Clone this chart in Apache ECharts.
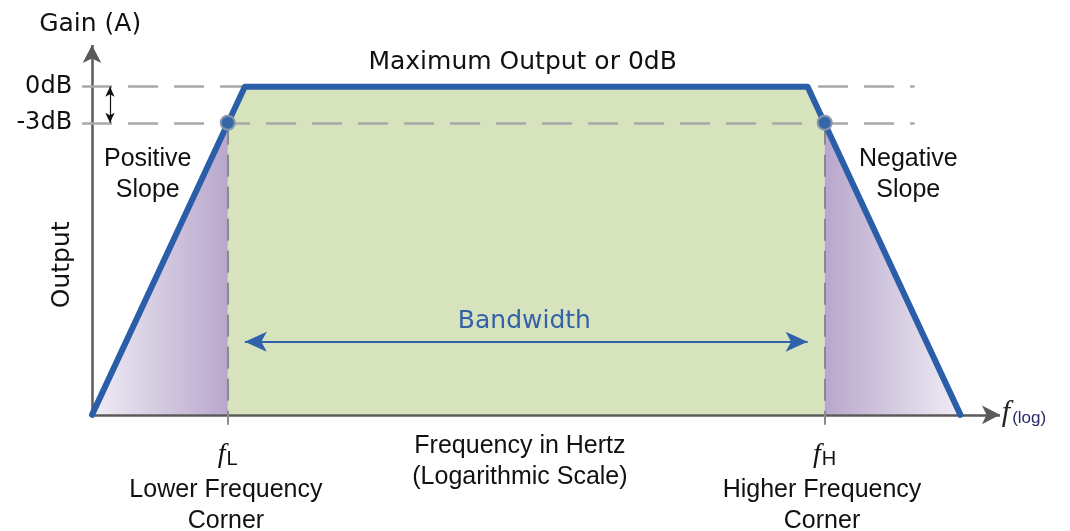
<!DOCTYPE html>
<html>
<head>
<meta charset="utf-8">
<title>Bandwidth</title>
<script src="https://cdn.jsdelivr.net/npm/echarts@6/dist/echarts.min.js"></script>
<style>
  html, body { margin: 0; padding: 0; background: #fff; }
  #chart { width: 1070px; height: 531px; }
</style>
</head>
<body>
<div id="chart"></div>
<script>
// response shape, x = log frequency (0..100), y = gain (0dB = 100, -3dB = 89)
const responseX = [0, 17, 79.6, 96.6];
const responseY = [0, 100, 100, 0];
const gain0dB = 100;
const gain3dB = 89;
const fLow = 15.1;
const fHigh = 81.5;
const guideStart = -1.1;
const guideEnd = 91.5;
const cornerDrop = -3;
const bandwidthY = 22.3;
const stepArrowX = 2;
const xAxisEnd = 101;
const yAxisEnd = 112.7;

// annotations, in data units
const noteText = ['Gain (A)', 'Positive\nSlope', 'Negative\nSlope', 'Maximum Output or 0dB',
  'Bandwidth', 'Frequency in Hertz\n(Logarithmic Scale)', 'Lower Frequency\nCorner', 'Higher Frequency\nCorner'];
const noteX = [-0.2, 6.2, 90.8, 47.9, 48.1, 47.6, 14.9, 81.2];
const noteY = [118.8, 73.1, 73.1, 107.3, 28.6, -14.2, -27.6, -27.6];

const chart = echarts.init(document.getElementById('chart'));

const darkText = '#111';
const verdana = '"DejaVu Sans", sans-serif';
const arial = '"Liberation Sans", Arial, sans-serif';

function pts(xs, ys) {
    return xs.map(function (x, i) { return [x, ys[i]]; });
}

const passband = [[fLow, gain3dB], [responseX[1], responseY[1]], [responseX[2], responseY[2]], [fHigh, gain3dB]];
const lowSlope = [[responseX[0], responseY[0]], [fLow, gain3dB]];
const highSlope = [[fHigh, gain3dB], [responseX[3], responseY[3]]];

const noteFonts = [verdana, arial, arial, verdana, verdana, arial, arial, arial];
const notes = noteText.map(function (t, i) {
    return {
        value: [noteX[i], noteY[i]],
        label: {
            formatter: t,
            fontFamily: noteFonts[i],
            color: i === 4 ? '#3461a8' : darkText
        }
    };
});
// rotated axis name
notes.push({ value: [-3.3, 45.7], label: { formatter: 'Output', rotate: 90, fontFamily: verdana, color: darkText } });
// corner symbols
const fRich = {
    f: { fontFamily: '"Liberation Serif", serif', fontStyle: 'italic', fontSize: 28, color: darkText },
    s: { fontFamily: arial, fontSize: 20, color: darkText, padding: [10, 0, 0, 1] }
};
notes.push({ value: [fLow, -12], label: { formatter: '{f|f}{s|L}', rich: fRich } });
notes.push({ value: [fHigh, -12], label: { formatter: '{f|f}{s|H}', rich: fRich } });
notes.push({ value: [101.2, 0.5], label: {
    formatter: '{f|f}{s|(log)}', align: 'left',
    rich: {
        f: { fontFamily: '"Liberation Serif", serif', fontStyle: 'italic', fontSize: 30, color: '#222' },
        s: { fontFamily: arial, fontSize: 17, color: '#2a2a6a', padding: [10, 0, 0, 2] }
    }
} });

const hDash = { color: '#a8a8a8', width: 2.5, type: [30, 16] };
const vDash = { color: '#8a8a8a', width: 2, type: [22, 10] };
const dbLabel = function (txt) {
    return { show: true, position: 'start', distance: 10, formatter: txt, fontFamily: verdana, fontSize: 24, color: darkText };
};
const hiddenAxis = {
    type: 'value',
    axisLine: { show: false }, axisTick: { show: false }, axisLabel: { show: false }, splitLine: { show: false }
};

chart.setOption({
    animation: false,
    grid: { left: 74, right: 61, top: 44, bottom: 103 },
    xAxis: Object.assign({ min: -2, max: 102 }, hiddenAxis),
    yAxis: Object.assign({ min: -4, max: 113 }, hiddenAxis),
    series: [
        {
            name: 'passband', type: 'line', z: 1, symbol: 'none',
            data: passband,
            lineStyle: { width: 0 },
            areaStyle: { color: '#d7e3bc', opacity: 1 }
        },
        {
            name: 'lowSlope', type: 'line', z: 1, symbol: 'none',
            data: lowSlope,
            lineStyle: { width: 0 },
            areaStyle: { opacity: 1, color: new echarts.graphic.LinearGradient(0, 0, 1, 0, [
                { offset: 0, color: '#f0edf5' }, { offset: 1, color: '#b8a7cc' }
            ]) }
        },
        {
            name: 'highSlope', type: 'line', z: 1, symbol: 'none',
            data: highSlope,
            lineStyle: { width: 0 },
            areaStyle: { opacity: 1, color: new echarts.graphic.LinearGradient(0, 0, 1, 0, [
                { offset: 0, color: '#b8a7cc' }, { offset: 1, color: '#f0edf5' }
            ]) }
        },
        {
            // axes with arrow heads
            name: 'axes', type: 'line', z: 2, symbol: 'none',
            data: [[0, 0]],
            markLine: {
                z: 2,
                silent: true,
                symbol: ['none', 'arrow'],
                symbolSize: [14, 18],
                label: { show: false },
                lineStyle: { color: '#5a5a5a', width: 2.5, type: 'solid' },
                data: [
                    [{ coord: [0, 0] }, { coord: [xAxisEnd, 0] }],
                    [{ coord: [0, 0] }, { coord: [0, yAxisEnd] }]
                ]
            }
        },
        {
            name: 'guides', type: 'line', z: 3, symbol: 'none',
            data: [[0, 0]],
            markLine: {
                z: 3,
                silent: true, symbol: 'none',
                label: { show: false },
                data: [
                    [{ coord: [guideStart, gain0dB], lineStyle: hDash, label: dbLabel('0dB') }, { coord: [guideEnd, gain0dB] }],
                    [{ coord: [guideStart, gain3dB], lineStyle: hDash, label: dbLabel('-3dB') }, { coord: [guideEnd, gain3dB] }],
                    [{ coord: [fLow, gain3dB], lineStyle: vDash }, { coord: [fLow, cornerDrop] }],
                    [{ coord: [fHigh, gain3dB], lineStyle: vDash }, { coord: [fHigh, cornerDrop] }]
                ]
            }
        },
        {
            name: 'arrows', type: 'line', z: 3, symbol: 'none',
            data: [[0, 0]],
            markLine: {
                z: 3,
                silent: true,
                symbol: ['arrow', 'arrow'],
                label: { show: false },
                data: [
                    [{ coord: [responseX[1], bandwidthY], symbolSize: [15, 22], lineStyle: { color: '#2f62aa', width: 2, type: 'solid' } },
                     { coord: [responseX[2], bandwidthY], symbolSize: [15, 22] }],
                    [{ coord: [stepArrowX, gain0dB], symbolSize: [7, 10], lineStyle: { color: '#111', width: 1.2, type: 'solid' } },
                     { coord: [stepArrowX, gain3dB], symbolSize: [7, 10] }]
                ]
            }
        },
        {
            name: 'response', type: 'line', z: 4, symbol: 'none',
            data: pts(responseX, responseY),
            lineStyle: { color: '#2b5ea8', width: 6, cap: 'round', join: 'round' }
        },
        {
            name: 'corners', type: 'scatter', z: 5,
            data: [[fLow, gain3dB], [fHigh, gain3dB]],
            symbolSize: 14,
            itemStyle: { color: '#3566a8', borderColor: '#8795a8', borderWidth: 2, opacity: 1 }
        },
        {
            name: 'notes', type: 'scatter', z: 6, clip: false, silent: true,
            symbolSize: 0,
            itemStyle: { opacity: 1 },
            data: notes,
            label: {
                show: true, position: 'inside', align: 'center', verticalAlign: 'middle',
                fontSize: 25, lineHeight: 31, color: darkText
            }
        }
    ]
});
</script>
</body>
</html>
